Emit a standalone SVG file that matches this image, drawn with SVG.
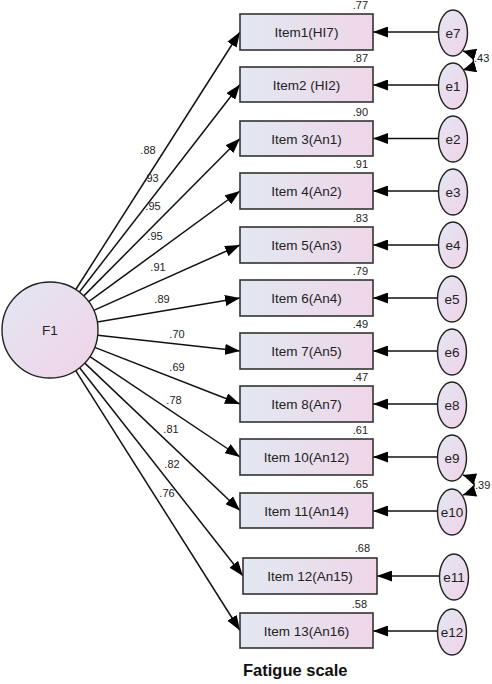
<svg xmlns="http://www.w3.org/2000/svg" width="492" height="684" viewBox="0 0 492 684">
<defs>
<linearGradient id="gBox" x1="0" y1="0" x2="1" y2="0">
<stop offset="0" stop-color="#e2e8f1"/>
<stop offset="1" stop-color="#efd6e8"/>
</linearGradient>
<linearGradient id="gEl" x1="0" y1="0" x2="1" y2="1">
<stop offset="0" stop-color="#e3e7f3"/>
<stop offset="1" stop-color="#f0d3e7"/>
</linearGradient>
<marker id="ah" markerUnits="userSpaceOnUse" markerWidth="15" markerHeight="11" refX="15" refY="5.5" orient="auto">
<path d="M0,0 L15,5.5 L0,11 z" fill="#000"/>
</marker>
<marker id="ah2" markerUnits="userSpaceOnUse" markerWidth="13" markerHeight="12" refX="13" refY="6" orient="auto-start-reverse">
<path d="M0,0 L13,6 L0,12 z" fill="#000"/>
</marker>
</defs>
<style>
.box{fill:url(#gBox);stroke:#333;stroke-width:1.6}
.el{fill:url(#gEl);stroke:#222;stroke-width:1.4}
.t{font-family:"Liberation Sans",Arial,sans-serif;font-size:13.5px;fill:#222;text-anchor:middle}
.n{font-family:"Liberation Sans",Arial,sans-serif;font-size:11px;fill:#222}
.r{text-anchor:end}
.c{text-anchor:middle}
.ln{stroke:#111;stroke-width:1.5;fill:none;marker-end:url(#ah)}
.cv{stroke:#111;stroke-width:1.5;fill:none;marker-start:url(#ah2);marker-end:url(#ah2)}
</style>
<g id="connectors">
<line class="ln" x1="75.8" y1="289.5" x2="240" y2="32"/>
<line class="ln" x1="79.4" y1="292" x2="240" y2="84.5"/>
<line class="ln" x1="83.8" y1="295.9" x2="240" y2="138.5"/>
<line class="ln" x1="88.7" y1="301.7" x2="240" y2="191"/>
<line class="ln" x1="93.8" y1="310.4" x2="240" y2="245"/>
<line class="ln" x1="97.3" y1="322" x2="240" y2="298"/>
<line class="ln" x1="97.7" y1="335.3" x2="240" y2="351"/>
<line class="ln" x1="94.7" y1="347.4" x2="240" y2="404"/>
<line class="ln" x1="89.9" y1="356.7" x2="240" y2="457"/>
<line class="ln" x1="84.8" y1="363.1" x2="240" y2="510.5"/>
<line class="ln" x1="79.6" y1="367.8" x2="243" y2="576"/>
<line class="ln" x1="75.7" y1="370.6" x2="240" y2="630.5"/>
<line class="ln" x1="438" y1="32" x2="373" y2="32"/>
<line class="ln" x1="438" y1="85" x2="373" y2="85"/>
<line class="ln" x1="438" y1="138.5" x2="373" y2="138.5"/>
<line class="ln" x1="438" y1="191" x2="373" y2="191"/>
<line class="ln" x1="438" y1="245" x2="373" y2="245"/>
<line class="ln" x1="437" y1="298" x2="373" y2="298"/>
<line class="ln" x1="437" y1="351" x2="373" y2="351"/>
<line class="ln" x1="437" y1="404" x2="373" y2="404"/>
<line class="ln" x1="437" y1="457" x2="373" y2="457"/>
<line class="ln" x1="437" y1="511" x2="373" y2="511"/>
<line class="ln" x1="439" y1="576" x2="377" y2="576"/>
<line class="ln" x1="437" y1="631" x2="373" y2="631"/>
<path class="cv" d="M463,51 C477,55 477,66 463,70"/>
<path class="cv" d="M463,475 C478,480 478,490 463,495"/>
<text class="n c" x="148" y="154">.88</text>
<text class="n c" x="151" y="182">.93</text>
<text class="n c" x="153" y="210">.95</text>
<text class="n c" x="155" y="240">.95</text>
<text class="n c" x="158" y="271">.91</text>
<text class="n c" x="162" y="303">.89</text>
<text class="n c" x="177" y="338">.70</text>
<text class="n c" x="177" y="371">.69</text>
<text class="n c" x="174" y="404">.78</text>
<text class="n c" x="171" y="433">.81</text>
<text class="n c" x="172" y="468">.82</text>
<text class="n c" x="167" y="497">.76</text>
<text class="n" x="474" y="62">.43</text>
<text class="n" x="475" y="489">.39</text>
</g>
<g id="F1">
<circle class="el" cx="50" cy="330" r="48"/>
<text class="t" x="50" y="335">F1</text>
</g>
<g id="item1"><rect class="box" x="240" y="14" width="133" height="36"/><text class="t" x="306.5" y="37">Item1(HI7)</text><text class="n r" x="368" y="9">.77</text></g>
<g id="item2"><rect class="box" x="240" y="67" width="133" height="35"/><text class="t" x="306.5" y="89.5">Item2 (HI2)</text><text class="n r" x="368" y="62">.87</text></g>
<g id="item3"><rect class="box" x="240" y="121" width="133" height="35"/><text class="t" x="306.5" y="143.5">Item 3(An1)</text><text class="n r" x="368" y="116">.90</text></g>
<g id="item4"><rect class="box" x="240" y="173" width="133" height="36"/><text class="t" x="306.5" y="196">Item 4(An2)</text><text class="n r" x="368" y="168">.91</text></g>
<g id="item5"><rect class="box" x="240" y="227" width="133" height="36"/><text class="t" x="306.5" y="250">Item 5(An3)</text><text class="n r" x="368" y="222">.83</text></g>
<g id="item6"><rect class="box" x="240" y="280" width="133" height="36"/><text class="t" x="306.5" y="303">Item 6(An4)</text><text class="n r" x="368" y="275">.79</text></g>
<g id="item7"><rect class="box" x="240" y="333" width="133" height="36"/><text class="t" x="306.5" y="356">Item 7(An5)</text><text class="n r" x="368" y="328">.49</text></g>
<g id="item8"><rect class="box" x="240" y="386" width="133" height="36"/><text class="t" x="306.5" y="409">Item 8(An7)</text><text class="n r" x="368" y="381">.47</text></g>
<g id="item10"><rect class="box" x="240" y="439" width="133" height="36"/><text class="t" x="306.5" y="462">Item 10(An12)</text><text class="n r" x="368" y="434">.61</text></g>
<g id="item11"><rect class="box" x="240" y="493" width="133" height="35"/><text class="t" x="306.5" y="515.5">Item 11(An14)</text><text class="n r" x="368" y="488">.65</text></g>
<g id="item12"><rect class="box" x="243" y="558" width="134" height="36"/><text class="t" x="310" y="581">Item 12(An15)</text><text class="n r" x="370" y="552">.68</text></g>
<g id="item13"><rect class="box" x="240" y="613" width="133" height="35"/><text class="t" x="306.5" y="635.5">Item 13(An16)</text><text class="n r" x="367" y="608">.58</text></g>
<g id="e7"><ellipse class="el" cx="453" cy="33" rx="14.5" ry="23"/><text class="t" x="453" y="38">e7</text></g>
<g id="e1"><ellipse class="el" cx="453" cy="86" rx="14.5" ry="23"/><text class="t" x="453" y="91">e1</text></g>
<g id="e2"><ellipse class="el" cx="453" cy="139" rx="14.5" ry="23"/><text class="t" x="453" y="144">e2</text></g>
<g id="e3"><ellipse class="el" cx="453" cy="192" rx="14.5" ry="23"/><text class="t" x="453" y="197">e3</text></g>
<g id="e4"><ellipse class="el" cx="453" cy="245" rx="14.5" ry="23"/><text class="t" x="453" y="250">e4</text></g>
<g id="e5"><ellipse class="el" cx="452" cy="299" rx="14.5" ry="23"/><text class="t" x="452" y="304">e5</text></g>
<g id="e6"><ellipse class="el" cx="452" cy="352" rx="14.5" ry="23"/><text class="t" x="452" y="357">e6</text></g>
<g id="e8"><ellipse class="el" cx="452" cy="405" rx="14.5" ry="23"/><text class="t" x="452" y="410">e8</text></g>
<g id="e9"><ellipse class="el" cx="452" cy="458" rx="14.5" ry="23"/><text class="t" x="452" y="463">e9</text></g>
<g id="e10"><ellipse class="el" cx="452" cy="512" rx="14.5" ry="23"/><text class="t" x="452" y="517">e10</text></g>
<g id="e11"><ellipse class="el" cx="454" cy="577" rx="14.5" ry="23"/><text class="t" x="454" y="582">e11</text></g>
<g id="e12"><ellipse class="el" cx="452" cy="632" rx="14.5" ry="23"/><text class="t" x="452" y="637">e12</text></g>
<g id="title"><text x="243" y="676" style="font-family:'Liberation Sans',Arial,sans-serif;font-size:16.5px;font-weight:bold;fill:#111">Fatigue scale</text></g>
</svg>
